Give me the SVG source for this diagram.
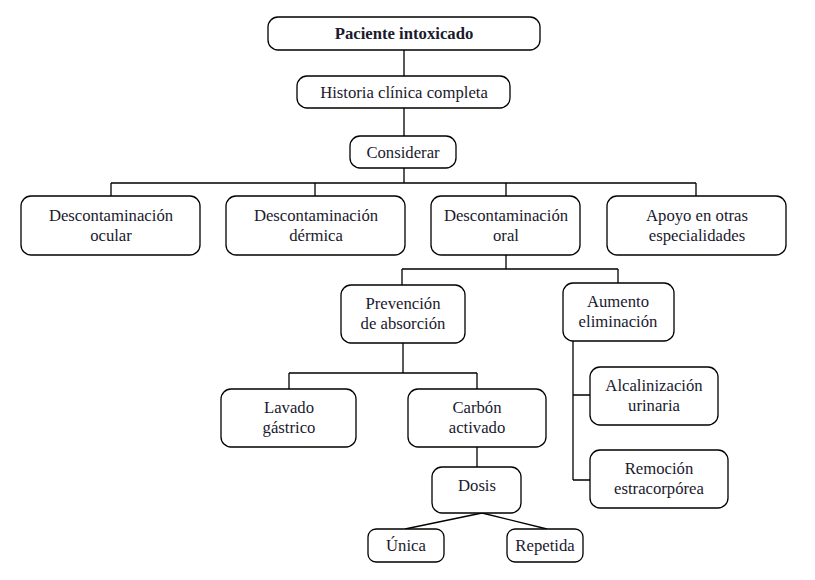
<svg xmlns="http://www.w3.org/2000/svg" width="815" height="580" viewBox="0 0 815 580">
<style>
rect{fill:#fff;stroke:#000;stroke-width:1.3}
text{font-family:"Liberation Serif","Times New Roman","DejaVu Serif",serif;font-size:16.7px;fill:#1a1a2e;text-anchor:middle}
.b{font-weight:bold}
#connectors path{fill:none;stroke:#000;stroke-width:1.3}
</style>
<rect x="0" y="0" width="815" height="580" style="fill:#fff;stroke:none"/>
<g id="connectors">
<path d="M404 50V76M404 108V136M404 168V183M111 183H696M111 183V196M315 183V196M506 183V196M696 183V196"/>
<path d="M506 255V269M402 269H618M402 269V285M618 269V283"/>
<path d="M403 343V373M289 373H477M289 373V389M477 373V389M477 447V467"/>
<path d="M482 513L405 529M482 513L547 529"/>
<path d="M573 341V480M573 395H590M573 480H590"/>
</g>
<g id="n1"><rect x="268" y="17" width="272" height="33" rx="10"/><text class="b" x="404" y="39">Paciente intoxicado</text></g>
<g id="n2"><rect x="297" y="76" width="213" height="32" rx="10"/><text x="404" y="98">Historia clínica completa</text></g>
<g id="n3"><rect x="350" y="136" width="106" height="32" rx="10"/><text x="403" y="158">Considerar</text></g>
<g id="n4"><rect x="21" y="196" width="179" height="59" rx="10"/><text x="111" y="221">Descontaminación</text><text x="111" y="241">ocular</text></g>
<g id="n5"><rect x="226" y="196" width="179" height="59" rx="10"/><text x="316" y="221">Descontaminación</text><text x="316" y="241">dérmica</text></g>
<g id="n6"><rect x="431" y="196" width="149" height="59" rx="10"/><text x="506" y="221">Descontaminación</text><text x="506" y="241">oral</text></g>
<g id="n7"><rect x="607" y="196" width="179" height="59" rx="10"/><text x="697" y="221">Apoyo en otras</text><text x="697" y="241">especialidades</text></g>
<g id="n8"><rect x="341" y="285" width="124" height="58" rx="10"/><text x="403" y="309">Prevención</text><text x="403" y="329">de absorción</text></g>
<g id="n9"><rect x="563" y="283" width="111" height="58" rx="10"/><text x="618" y="307">Aumento</text><text x="618" y="327">eliminación</text></g>
<g id="n10"><rect x="221" y="389" width="135" height="58" rx="10"/><text x="289" y="413">Lavado</text><text x="289" y="433">gástrico</text></g>
<g id="n11"><rect x="408" y="389" width="138" height="58" rx="10"/><text x="477" y="413">Carbón</text><text x="477" y="433">activado</text></g>
<g id="n12"><rect x="432" y="467" width="89" height="46" rx="10"/><text x="477" y="491">Dosis</text></g>
<g id="n13"><rect x="368" y="529" width="76" height="33" rx="8"/><text x="406" y="551">Única</text></g>
<g id="n14"><rect x="507" y="529" width="76" height="33" rx="8"/><text x="545" y="551">Repetida</text></g>
<g id="n15"><rect x="590" y="367" width="128" height="58" rx="10"/><text x="654" y="391">Alcalinización</text><text x="654" y="411">urinaria</text></g>
<g id="n16"><rect x="590" y="450" width="138" height="58" rx="10"/><text x="659" y="474">Remoción</text><text x="659" y="494">estracorpórea</text></g>
</svg>
